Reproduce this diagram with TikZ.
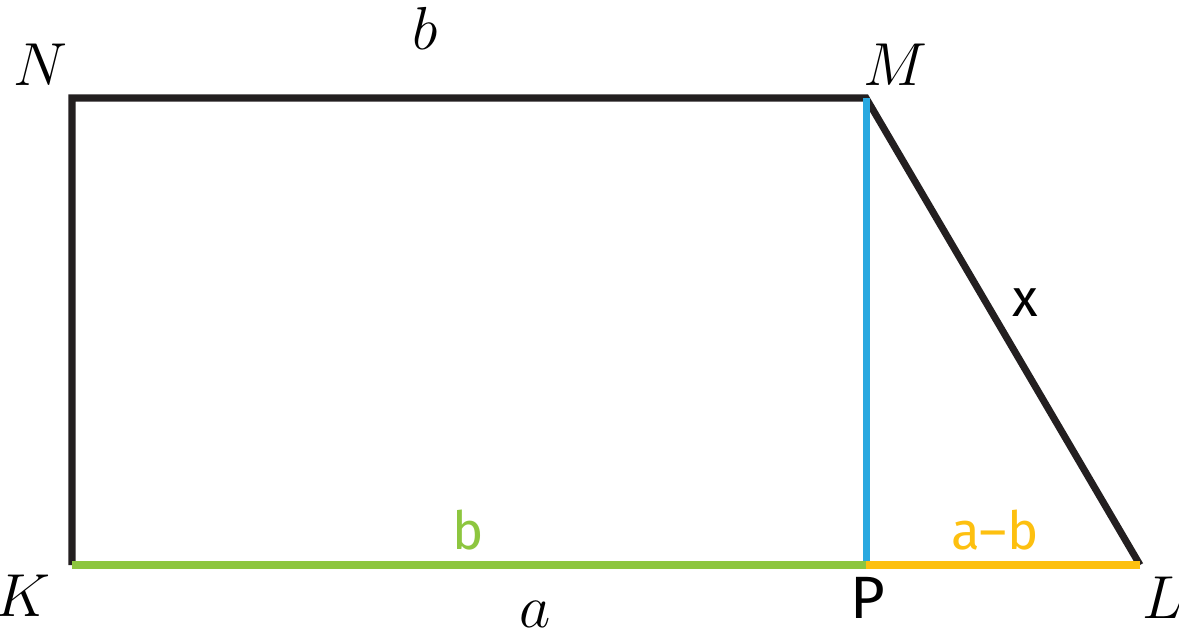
\documentclass[tikz,border=0pt]{standalone}
\usepackage{amsmath}
\usepackage{fontspec}
\newfontfamily\handfont{Fira Sans}
\definecolor{edgeblack}{HTML}{231F20}
\definecolor{heightblue}{HTML}{29A8E0}
\definecolor{partgreen}{HTML}{8DC63F}
\definecolor{partyellow}{HTML}{FDC010}
\tikzset{
    side/.style={line width=2pt,color=edgeblack},
    vlabel/.style={font=\fontsize{19}{21}\selectfont,inner sep=0pt},
    hlabel/.style={font=\fontsize{17}{19}\selectfont\handfont,inner sep=0pt},
    slabel/.style={font=\fontsize{15}{17}\selectfont\handfont,inner sep=0pt}
}

\begin{document}
\begin{tikzpicture}[scale=1]
        \useasboundingbox (0,0) rectangle (11.79,6.38);
        \coordinate (n) at (0.72,5.40);
        \coordinate (m) at (8.66,5.40);
        \coordinate (k) at (0.72,0.73);
        \coordinate (p) at (8.66,0.73);
        \coordinate (l) at (11.40,0.73);
        \draw[side] (k)--(n)--(m)--(l);
        \draw[side,color=heightblue] (m)--(p);
        \draw[side,color=partgreen] (k)--(p);
        \draw[side,color=partyellow] (p)--(l);
        % vertex labels
        \node[vlabel] (labN) at (0.40,5.73) {$N$};
        \node[vlabel] (labM) at (8.95,5.73) {$M$};
        \node[vlabel] (labK) at (0.23,0.42) {$K$};
        \node[hlabel] (labP) at (8.68,0.40) {P};
        \node[vlabel] (labL) at (11.63,0.40) {$L$};
        % side labels
        \node[vlabel] (labb) at (4.25,6.10) {$b$};
        \node[vlabel] (laba) at (5.35,0.24) {$a$};
        \node[slabel] (labx) at (10.25,3.35) {x};
        \node[slabel,color=partgreen] (labKP) at (4.68,1.08) {b};
        \node[slabel,color=partyellow] (labPL) at (9.95,1.08) {a–b};
    \end{tikzpicture}
\end{document}
